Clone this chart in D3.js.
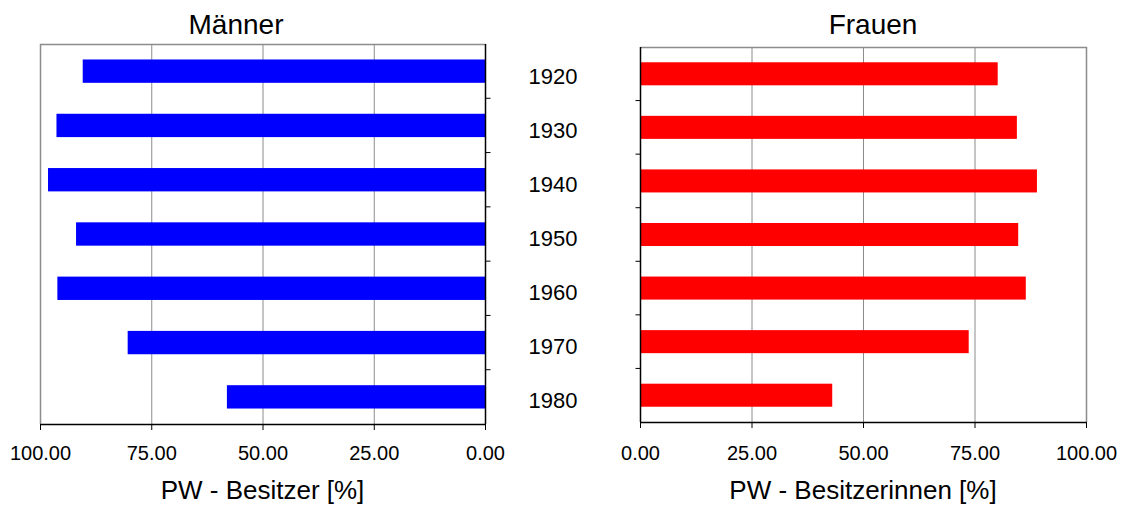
<!DOCTYPE html>
<html>
<head>
<meta charset="utf-8">
<script src="https://cdn.jsdelivr.net/npm/d3@7"></script>
<style>
  body { margin: 0; background: #fff; }
  svg text { font-family: "Liberation Sans", Arial, sans-serif; fill: #000; }
</style>
</head>
<body>
<script>
var years = ["1920", "1930", "1940", "1950", "1960", "1970", "1980"]
var maenner = [90.4, 96.3, 98.2, 91.9, 96.1, 80.3, 58.0]
var frauen = [80.2, 84.5, 89.0, 84.8, 86.5, 73.7, 43.1]
var ticks = [0, 25, 50, 75, 100]

var w = 1127
var h = 507

var svg = d3.select("body").append("svg")
    .attr("width", w)
    .attr("height", h)

// one panel: x0/x1 plot edges, y0/y1 top/bottom, flip = bars grow to the left
function panel(values, color, x0, x1, y0, y1, flip, title, titleX, axisTitle) {
    var xScale = d3.scaleLinear().domain([0, 100])
        .range(flip ? [x1, x0] : [x0, x1])
    var yScale = d3.scaleBand().domain(years).range([y0, y1]).paddingInner(0.57).paddingOuter(0.285)
    var band = d3.scaleBand().domain(years).range([y0, y1])

    var g = svg.append("g")

    // gridlines
    g.selectAll("line.grid").data(ticks.slice(1, 4)).enter()
        .append("line")
        .attr("x1", function (d) { return xScale(d) + 0.5 })
        .attr("x2", function (d) { return xScale(d) + 0.5 })
        .attr("y1", y0)
        .attr("y2", y1)
        .attr("stroke", "#8c8c8c")
        .attr("stroke-width", 1)

    // gray frame on outer/top side
    var outer = flip ? x0 : x1
    g.append("path")
        .attr("d", "M" + (xScale(0) + 0.5) + "," + (y0 + 0.5) + "H" + (outer + 0.5) + "V" + y1)
        .attr("fill", "none")
        .attr("stroke", "#8c8c8c")
        .attr("stroke-width", 1.5)

    g.selectAll("rect").data(values).enter()
        .append("rect")
        .attr("x", function (d) { return flip ? xScale(d) : xScale(0) })
        .attr("width", function (d) { return Math.abs(xScale(d) - xScale(0)) })
        .attr("y", function (d, i) { return yScale(years[i]) })
        .attr("height", yScale.bandwidth())
        .attr("fill", color)

    // category axis (line at zero with ticks between bands)
    var zx = Math.round(xScale(0)) + 0.5
    g.append("line")
        .attr("x1", zx).attr("x2", zx)
        .attr("y1", y0).attr("y2", y1)
        .attr("stroke", "#000").attr("stroke-width", 1.5)
    g.selectAll("line.ctick").data(years.slice(1)).enter()
        .append("line")
        .attr("x1", zx).attr("x2", flip ? zx + 5 : zx - 5)
        .attr("y1", function (d) { return band(d) })
        .attr("y2", function (d) { return band(d) })
        .attr("stroke", "#000")

    // value axis
    var xAxis = d3.axisBottom(xScale)
        .tickValues(ticks)
        .tickFormat(d3.format(".2f"))
        .tickSizeInner(6)
        .tickSizeOuter(0)
        .tickPadding(10)
    var ax = g.append("g")
        .attr("transform", "translate(0," + y1 + ")")
        .call(xAxis)
    ax.select(".domain").attr("stroke", "#000").attr("stroke-width", 1.5)
    ax.selectAll(".tick line").attr("stroke", "#000")
    ax.selectAll(".tick text")
        .style("font-size", "20px")
        .attr("y", 460 - y1)
        .attr("dy", 0)

    svg.append("text")
        .attr("x", titleX)
        .attr("y", 34)
        .attr("text-anchor", "middle")
        .style("font-size", "28px")
        .text(title)

    svg.append("text")
        .attr("x", (x0 + x1) / 2)
        .attr("y", 499)
        .attr("text-anchor", "middle")
        .style("font-size", "26px")
        .text(axisTitle)
}

panel(maenner, "#0000ff", 40, 485, 44, 424, true, "Männer", 236, "PW - Besitzer [%]")
panel(frauen, "#ff0000", 640, 1086, 47, 422, false, "Frauen", 873, "PW - Besitzerinnen [%]")

// year labels in the middle
var yMid = d3.scaleBand().domain(years).range([45, 423])
svg.selectAll("text.year").data(years).enter()
    .append("text")
    .attr("x", 553)
    .attr("y", function (d) { return yMid(d) + yMid.bandwidth() / 2 + 12 })
    .attr("text-anchor", "middle")
    .style("font-size", "22px")
    .text(function (d) { return d })
</script>
</body>
</html>
